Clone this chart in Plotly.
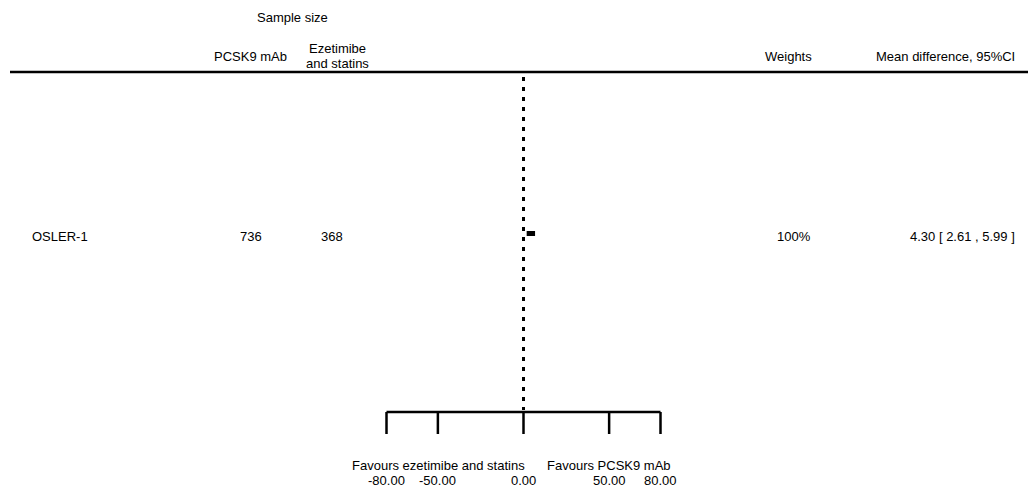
import plotly.graph_objects as go

# ---- data ----
studies = ["OSLER-1"]
n_pcsk9 = [736]
n_control = [368]
weights_pct = [100]
mean_diff = [4.30]
ci_low = [2.61]
ci_high = [5.99]
tick_vals = [-80, -50, 0, 50, 80]
left_label = "Favours ezetimibe and statins"
right_label = "Favours PCSK9 mAb"

# ---- layout constants ----
W, H = 1028, 491
px_per_unit = 274 / 160.0
zero_px = 523.5
x_range = [-zero_px / px_per_unit, (W - zero_px) / px_per_unit]
row_y = [233.5]        # pixel-row of each study (y axis in pixels, top = 0)
axis_y = 412
tick_len = 22
FONT = "Liberation Sans, Arial, sans-serif"
fs = 13

fig = go.Figure()

# vertical dotted reference line at 0
fig.add_trace(go.Scatter(x=[0, 0], y=[77, axis_y - 2], mode="lines",
                         line=dict(color="black", width=3, dash="4px,6px"),
                         hoverinfo="skip", showlegend=False))

# CI lines and point estimates
for i in range(len(studies)):
    fig.add_trace(go.Scatter(x=[ci_low[i], ci_high[i]], y=[row_y[i], row_y[i]],
                             mode="lines", line=dict(color="black", width=5),
                             showlegend=False, hoverinfo="skip"))
fig.add_trace(go.Scatter(x=mean_diff, y=row_y, mode="markers",
                         marker=dict(symbol="line-ew", size=6, color="black",
                                     line=dict(width=5, color="black")),
                         showlegend=False))

# bottom axis drawn from tick values
ax_x, ax_y = [min(tick_vals), max(tick_vals), None], [axis_y, axis_y, None]
for t in tick_vals:
    ax_x += [t, t, None]
    ax_y += [axis_y, axis_y + tick_len, None]
fig.add_trace(go.Scatter(x=ax_x, y=ax_y, mode="lines",
                         line=dict(color="black", width=2.5),
                         hoverinfo="skip", showlegend=False))

ann = []
def txt(x, y, s, xanchor="center", xref="paper"):
    ann.append(dict(x=x, y=y, xref=xref, yref="y", text=s, showarrow=False,
                    xanchor=xanchor, yanchor="middle",
                    font=dict(family=FONT, size=fs, color="black")))

# tick labels
for t in tick_vals:
    txt(t, 480, f"{t:.2f}", xref="x")
txt(2.0, 465, left_label, xanchor="right", xref="x")
txt(12.5, 465, right_label, xanchor="left", xref="x")

# headers
txt(292 / W, 17, "Sample size")
txt(250 / W, 56, "PCSK9 mAb")
txt(337 / W, 48, "Ezetimibe")
txt(337 / W, 63, "and statins")
txt(788 / W, 56, "Weights")
txt(1017 / W, 56, "Mean difference, 95%CI", xanchor="right")

# study rows
for i, s in enumerate(studies):
    txt(30 / W, 236, s, xanchor="left")
    txt(251 / W, 236, str(n_pcsk9[i]))
    txt(332 / W, 236, str(n_control[i]))
    txt(794 / W, 236, f"{weights_pct[i]}%")
    txt(1017 / W, 236,
        f"{mean_diff[i]:.2f} [ {ci_low[i]:.2f} , {ci_high[i]:.2f} ]", xanchor="right")

fig.update_layout(
    width=W, height=H, margin=dict(l=0, r=0, t=0, b=0),
    paper_bgcolor="white", plot_bgcolor="white",
    xaxis=dict(range=x_range, visible=False, fixedrange=True),
    yaxis=dict(range=[H, 0], visible=False, fixedrange=True),
    annotations=ann,
    shapes=[dict(type="line", xref="paper", yref="y", x0=10 / W, x1=1,
                 y0=72, y1=72, line=dict(color="black", width=2.5))],
    showlegend=False,
)

fig.write_html("out.html", config={"displayModeBar": False},
               post_script="document.body.style.margin='0';document.body.style.overflow='hidden';")
